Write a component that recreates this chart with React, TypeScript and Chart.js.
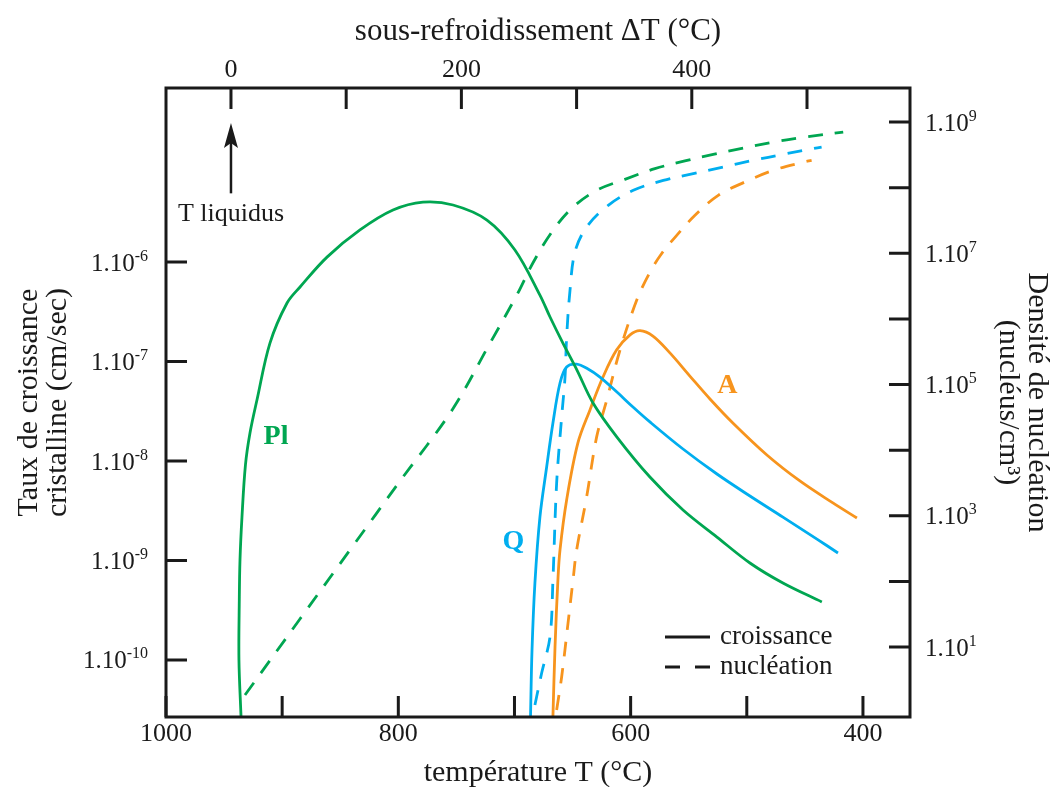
import React, { useEffect, useRef } from 'react';
import { Chart, registerables } from 'chart.js';

Chart.register(...registerables);

// ---------- Data (temperature °C, growth rate cm/s or nucleus density /cm3) ----------
const plGrowthT = [935.4, 937.2, 936.9, 936.3, 934.6, 931.6, 927.7, 921.7, 910.5, 895.8, 884.6, 861.4, 833.0, 804.6, 778.8, 752.9, 723.7, 699.6, 678.1, 669.4, 658.3, 646.2, 632.4, 611.8, 583.4, 554.9, 525.7, 497.3, 468.9, 435.4];
const plGrowthRate = [2.67e-11, 1e-10, 4.01e-10, 1.01e-9, 2.73e-9, 9.12e-9, 1.91e-8, 4.1e-8, 1.53e-7, 3.87e-7, 5.61e-7, 1.12e-6, 2.1e-6, 3.33e-6, 4.0e-6, 3.74e-6, 2.64e-6, 1.32e-6, 4.65e-7, 2.8e-7, 1.53e-7, 8.2e-8, 3.83e-8, 1.74e-8, 6.9e-9, 3.22e-9, 1.72e-9, 9.44e-10, 5.94e-10, 3.83e-10];

const qGrowthT = [686.2, 684.9, 682.4, 678.1, 672.3, 666.9, 660.8, 655.1, 646.5, 636.7, 626.4, 611.8, 598.0, 583.4, 554.9, 525.7, 497.3, 468.9, 439.6, 421.5];
const qGrowthRate = [2.67e-11, 1.26e-10, 5.94e-10, 2.73e-9, 8.7e-9, 2.41e-8, 6.08e-8, 8.8e-8, 9.4e-8, 8.41e-8, 6.98e-8, 4.93e-8, 3.49e-8, 2.47e-8, 1.32e-8, 7.4e-9, 4.45e-9, 2.73e-9, 1.64e-9, 1.19e-9];

const aGrowthT = [666.9, 665.1, 662.6, 660.8, 655.1, 645.4, 635.0, 623.8, 612.0, 600.5, 591.9, 580.8, 566.2, 549.0, 531.7, 512.0, 482.7, 454.3, 425.9, 405.2];
const aGrowthRate = [2.67e-11, 1.35e-10, 6.4e-10, 1.28e-9, 4.06e-9, 1.52e-8, 3.26e-8, 6.98e-8, 1.31e-7, 1.85e-7, 2.04e-7, 1.8e-7, 1.22e-7, 7.14e-8, 4.2e-8, 2.41e-8, 1.15e-8, 6.3e-9, 3.79e-9, 2.67e-9];

const plNuclT = [932.0, 884.7, 841.7, 798.6, 753.8, 721.1, 698.1, 683.8, 668.0, 650.8, 629.3, 604.9, 579.1, 553.3, 528.9, 503.1, 477.2, 451.4, 417.0];
const plNuclDensity = [1.86, 26.7, 300, 3373, 4.07e4, 4.26e5, 2.29e6, 7.3e6, 2.09e7, 4.84e7, 9.1e7, 1.34e8, 1.95e8, 2.55e8, 3.22e8, 4.01e8, 4.95e8, 5.84e8, 7.03e8];

const qNuclT = [682.4, 676.6, 669.4, 666.9, 663.7, 659.4, 656.5, 655.1, 652.2, 647.9, 637.9, 619.3, 597.7, 571.9, 546.1, 520.3, 494.4, 468.6, 442.8, 435.6];
const qNuclDensity = [1.31, 4.02, 14.4, 105, 3148, 3.18e4, 1.29e5, 5.26e5, 2.73e6, 1.05e7, 2.51e7, 5.38e7, 9.1e7, 1.29e8, 1.64e8, 2.06e8, 2.61e8, 3.22e8, 3.93e8, 4.16e8];

const aNuclT = [663.7, 659.4, 653.9, 649.6, 646.5, 637.9, 629.3, 620.6, 609.2, 594.8, 583.4, 573.1, 561.8, 544.6, 524.6, 501.6, 477.2, 451.4, 444.2];
const aNuclDensity = [1.1, 3.5, 23.2, 105, 300, 1923, 1.58e4, 5.78e4, 3.33e5, 1.92e6, 5.14e6, 1.0e7, 1.75e7, 3.79e7, 7.64e7, 1.22e8, 1.84e8, 2.45e8, 2.61e8];

// ---------- Axes ----------
const tempTicks = [1000, 900, 800, 700, 600, 500, 400];
const tempLabels = ['1000', '', '800', '', '600', '', '400'];
const undercoolTicks = [0, 100, 200, 300, 400, 500];
const undercoolLabels = ['0', '', '200', '', '400', ''];
const growthTicks = [1e-10, 1e-9, 1e-8, 1e-7, 1e-6];
const growthExponents = ['-10', '-9', '-8', '-7', '-6'];
const densityTicks = [1e1, 1e2, 1e3, 1e4, 1e5, 1e6, 1e7, 1e8, 1e9];
const densityExponents = ['1', '', '3', '', '5', '', '7', '', '9'];
const mantissa = '1.10';

const tempRange = [359.5, 1000];
const undercoolRange = [-56.4, 589.4];
const growthRange = [2.673e-11, 5.61e-5];
const densityRange = [0.859, 3.3e9];

// ---------- Annotations ----------
const liquidusUndercool = 0;
const liquidusArrowTip = 2.5e-5;
const liquidusArrowBase = 4.9e-6;
const liquidusLabelY = 3.0e-6;
const mineralLabels = [
  { text: 'Pl', t: 905.3, g: 1.76e-8, color: '#00a651' },
  { text: 'Q', t: 701.0, g: 1.53e-9, color: '#00aeef' },
  { text: 'A', t: 516.7, g: 5.77e-8, color: '#f7941d' },
];
const legendItems = [
  { text: 'croissance', dash: [] as number[] },
  { text: 'nucléation', dash: [15, 15] },
];

const GREEN = '#00a651';
const BLUE = '#00aeef';
const ORANGE = '#f7941d';
const INK = '#1a1a1a';
const SERIF = '"Liberation Serif", "Times New Roman", serif';

const pts = (xs: number[], ys: number[]) => xs.map((x, i) => ({ x, y: ys[i] }));

const TICK = 21;

const decorPlugin = {
  id: 'decor',
  afterDraw(chart: any) {
    const { ctx, chartArea: a, scales } = chart;
    const sx = scales.x, sx2 = scales.x2, sy = scales.y, sy2 = scales.y2;
    ctx.save();
    ctx.strokeStyle = INK;
    ctx.lineWidth = 3;
    ctx.beginPath();
    tempTicks.forEach((v) => {
      const p = sx.getPixelForValue(v);
      ctx.moveTo(p, a.bottom);
      ctx.lineTo(p, a.bottom - TICK);
    });
    undercoolTicks.forEach((v) => {
      const p = sx2.getPixelForValue(v);
      ctx.moveTo(p, a.top);
      ctx.lineTo(p, a.top + TICK);
    });
    growthTicks.forEach((v) => {
      const p = sy.getPixelForValue(v);
      ctx.moveTo(a.left, p);
      ctx.lineTo(a.left + TICK, p);
    });
    densityTicks.forEach((v) => {
      const p = sy2.getPixelForValue(v);
      ctx.moveTo(a.right, p);
      ctx.lineTo(a.right - TICK, p);
    });
    ctx.stroke();
    ctx.strokeRect(a.left, a.top, a.right - a.left, a.bottom - a.top);

    // log-axis tick labels with superscript exponents
    const baseFont = `25px ${SERIF}`;
    const expFont = `16px ${SERIF}`;
    ctx.fillStyle = INK;
    ctx.textBaseline = 'alphabetic';
    ctx.textAlign = 'left';
    ctx.font = baseFont;
    const baseW = ctx.measureText(mantissa).width;
    growthTicks.forEach((v, i) => {
      const py = sy.getPixelForValue(v);
      const exp = growthExponents[i];
      ctx.font = expFont;
      const ew = ctx.measureText(exp).width;
      const xEnd = a.left - 18;
      ctx.font = baseFont;
      ctx.fillText(mantissa, xEnd - ew - baseW, py + 8.5);
      ctx.font = expFont;
      ctx.fillText(exp, xEnd - ew, py - 1.5);
    });
    densityTicks.forEach((v, i) => {
      const exp = densityExponents[i];
      if (!exp) return;
      const py = sy2.getPixelForValue(v);
      const xStart = a.right + 15;
      ctx.font = baseFont;
      ctx.fillText(mantissa, xStart, py + 8.5);
      ctx.font = expFont;
      ctx.fillText(exp, xStart + baseW, py - 1.5);
    });

    // liquidus arrow
    const ax = sx2.getPixelForValue(liquidusUndercool);
    const tipY = sy.getPixelForValue(liquidusArrowTip);
    const baseY = sy.getPixelForValue(liquidusArrowBase);
    ctx.lineWidth = 2.5;
    ctx.beginPath();
    ctx.moveTo(ax, baseY);
    ctx.lineTo(ax, tipY + 20);
    ctx.stroke();
    ctx.beginPath();
    ctx.moveTo(ax, tipY);
    ctx.lineTo(ax - 7, tipY + 25);
    ctx.lineTo(ax, tipY + 20);
    ctx.lineTo(ax + 7, tipY + 25);
    ctx.closePath();
    ctx.fill();
    ctx.font = `26px ${SERIF}`;
    ctx.textAlign = 'center';
    ctx.textBaseline = 'middle';
    ctx.fillText('T liquidus', ax, sy.getPixelForValue(liquidusLabelY));

    // mineral labels
    ctx.font = `bold 28px ${SERIF}`;
    mineralLabels.forEach((m) => {
      ctx.fillStyle = m.color;
      ctx.fillText(m.text, sx.getPixelForValue(m.t), sy.getPixelForValue(m.g));
    });

    // legend
    ctx.font = `27px ${SERIF}`;
    ctx.textAlign = 'left';
    ctx.fillStyle = INK;
    ctx.strokeStyle = INK;
    ctx.lineWidth = 3;
    legendItems.forEach((it, i) => {
      const ly = a.bottom - 80 + i * 30;
      const lx = a.right - 245;
      ctx.setLineDash(it.dash);
      ctx.beginPath();
      ctx.moveTo(lx, ly);
      ctx.lineTo(lx + 45, ly);
      ctx.stroke();
      ctx.setLineDash([]);
      ctx.fillText(it.text, lx + 55, ly);
    });
    ctx.restore();
  },
};

export default function App() {
  const ref = useRef<HTMLCanvasElement | null>(null);

  useEffect(() => {
    if (!ref.current) return;
    const solid = (label: string, xs: number[], ys: number[], color: string) => ({
      label,
      data: pts(xs, ys),
      borderColor: color,
      backgroundColor: color,
      borderWidth: 2.8,
      pointRadius: 0,
      tension: 0.35,
      xAxisID: 'x',
      yAxisID: 'y',
    });
    const dashed = (label: string, xs: number[], ys: number[], color: string) => ({
      label,
      data: pts(xs, ys),
      borderColor: color,
      backgroundColor: color,
      borderWidth: 2.8,
      borderDash: [15, 12],
      pointRadius: 0,
      tension: 0.35,
      xAxisID: 'x',
      yAxisID: 'y2',
    });

    const tickFont = { family: SERIF, size: 26 };
    const titleFont = { family: SERIF, size: 30, lineHeight: 0.95 };
    const noGrid = { display: false, drawTicks: false };

    const chart = new Chart(ref.current, {
      type: 'line',
      data: {
        datasets: [
          solid('Pl croissance', plGrowthT, plGrowthRate, GREEN),
          solid('Q croissance', qGrowthT, qGrowthRate, BLUE),
          solid('A croissance', aGrowthT, aGrowthRate, ORANGE),
          dashed('Pl nucléation', plNuclT, plNuclDensity, GREEN),
          dashed('Q nucléation', qNuclT, qNuclDensity, BLUE),
          dashed('A nucléation', aNuclT, aNuclDensity, ORANGE),
        ] as any,
      },
      options: {
        animation: false,
        responsive: true,
        maintainAspectRatio: false,
        devicePixelRatio: 1,
        layout: { padding: 0 },
        plugins: { legend: { display: false }, tooltip: { enabled: false } },
        scales: {
          x: {
            type: 'linear',
            position: 'bottom',
            reverse: true,
            min: tempRange[0],
            max: tempRange[1],
            grid: noGrid,
            border: { display: false },
            afterBuildTicks: (s: any) => { s.ticks = tempTicks.map((value) => ({ value })); },
            afterFit: (s: any) => { s.height = 70; },
            ticks: {
              autoSkip: false,
              maxRotation: 0,
              padding: 2,
              color: INK,
              font: tickFont,
              callback: (_v: any, i: number) => tempLabels[i],
            },
            title: { display: true, text: 'température T (°C)', color: INK, font: titleFont, padding: { top: 0, bottom: 0 } },
          },
          x2: {
            type: 'linear',
            position: 'top',
            min: undercoolRange[0],
            max: undercoolRange[1],
            grid: noGrid,
            border: { display: false },
            afterBuildTicks: (s: any) => { s.ticks = undercoolTicks.map((value) => ({ value })); },
            afterFit: (s: any) => { s.height = 88; },
            ticks: {
              autoSkip: false,
              maxRotation: 0,
              padding: 2,
              color: INK,
              font: tickFont,
              callback: (_v: any, i: number) => undercoolLabels[i],
            },
            title: { display: true, text: 'sous-refroidissement ΔT (°C)', color: INK, font: { ...titleFont, size: 31 }, padding: { top: 17, bottom: 0 } },
          },
          y: {
            type: 'logarithmic',
            position: 'left',
            min: growthRange[0],
            max: growthRange[1],
            grid: noGrid,
            border: { display: false },
            afterBuildTicks: (s: any) => { s.ticks = growthTicks.map((value) => ({ value })); },
            afterFit: (s: any) => { s.width = 166; },
            ticks: { display: false },
            title: {
              display: true,
              text: ['Taux de croissance', 'cristalline (cm/sec)'],
              color: INK,
              font: titleFont,
              padding: { top: 15, bottom: 0 },
            },
          },
          y2: {
            type: 'logarithmic',
            position: 'right',
            min: densityRange[0],
            max: densityRange[1],
            grid: noGrid,
            border: { display: false },
            afterBuildTicks: (s: any) => { s.ticks = densityTicks.map((value) => ({ value })); },
            afterFit: (s: any) => { s.width = 141; },
            ticks: { display: false },
            title: {
              display: true,
              text: ['Densité de nucléation', '(nucléus/cm³)'],
              color: INK,
              font: titleFont,
              padding: { top: 0, bottom: 0 },
            },
          },
        },
      } as any,
      plugins: [decorPlugin],
    });
    return () => chart.destroy();
  }, []);

  return (
    <div style={{ position: 'fixed', left: 0, top: 0, width: 1051, height: 787, background: '#fff' }}>
      <canvas ref={ref} />
    </div>
  );
}
